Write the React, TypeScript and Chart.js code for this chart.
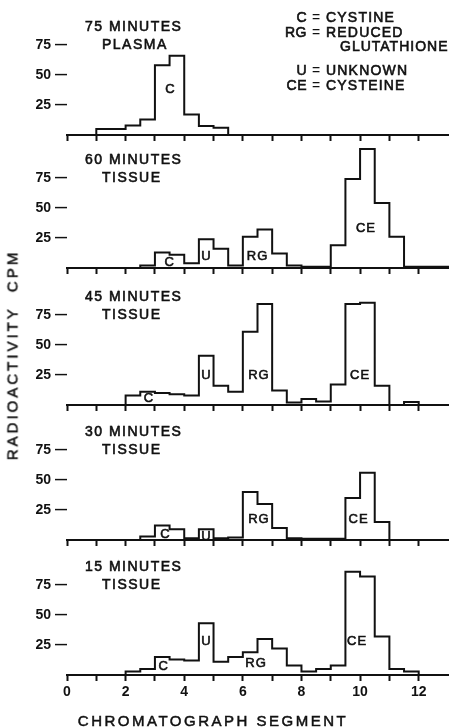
import React, { useEffect, useRef } from "react";
import { Chart, registerables } from "chart.js";

Chart.register(...registerables);
Chart.defaults.font.family = "'Liberation Sans', Arial, sans-serif";
Chart.defaults.color = "#111";

// Bin edges of the chromatograph segments (half-segment bins)
const binEdges = [1, 1.5, 2, 2.5, 3, 3.5, 4, 4.5, 5, 5.5, 6, 6.5, 7, 7.5, 8, 8.5, 9, 9.5, 10, 10.5, 11, 11.5, 12, 12.5, 13];

// Radioactivity (CPM) per bin, starting at each left edge
const cpm75Plasma = [5, 5, 8, 13, 58, 66, 17, 7.5, 6, null, null, null, null, null, null, null, null, null, null, null, null, null, null, null];
const cpm60Tissue = [null, null, null, 2, 13, 11, 4, 24, 16, 2, 26, 32, 12, 2, 1, 1, 19, 74, 99, 54, 26, 1, 1, 1];
const cpm45Tissue = [null, null, 8, 11, 10, 9, 8, 41, 16, 11, 61, 84, 12, 2, 5, 3, 17, 84, 85, 16, 0, 2.5, null, null];
const cpm30Tissue = [null, null, null, 3, 12, 9, 1.5, 9, 1.5, 2, 40, 30, 10, 1.5, 1, 1, 1, 35, 56, 15, null, null, null, null];
const cpm15Tissue = [null, null, 3, 5, 15, 13, 12, 43, 11, 15, 19, 30, 22, 8, 3, 5, 8, 86, 82, 32, 5, 3, null, null];

const panelTitles = ["75 MINUTES", "60 MINUTES", "45 MINUTES", "30 MINUTES", "15 MINUTES"];
const panelSubtitles = ["PLASMA", "TISSUE", "TISSUE", "TISSUE", "TISSUE"];

// Peak labels (segment, CPM)
const peaks75 = [{ t: "C", x: 3.53, y: 38 }];
const peaks60 = [{ t: "C", x: 3.5, y: 4.5 }, { t: "U", x: 4.76, y: 10 }, { t: "RG", x: 6.5, y: 10 }, { t: "CE", x: 10.2, y: 33 }];
const peaks45 = [{ t: "C", x: 2.8, y: 5.5 }, { t: "U", x: 4.76, y: 25 }, { t: "RG", x: 6.55, y: 25 }, { t: "CE", x: 10.0, y: 25 }];
const peaks30 = [{ t: "C", x: 3.36, y: 5 }, { t: "U", x: 4.76, y: 3 }, { t: "RG", x: 6.55, y: 17 }, { t: "CE", x: 9.95, y: 17 }];
const peaks15 = [{ t: "C", x: 3.3, y: 7 }, { t: "U", x: 4.76, y: 28 }, { t: "RG", x: 6.45, y: 10 }, { t: "CE", x: 9.9, y: 28 }];

const xTickValues = [0, 1, 2, 3, 4, 5, 6, 7, 8, 9, 10, 11, 12];
const yTickValues = [25, 50, 75];

const legendKeys = ["C", "RG", "", "U", "CE"];
const legendNames = ["CYSTINE", "REDUCED", "GLUTATHIONE", "UNKNOWN", "CYSTEINE"];

const xAxisTitle = "CHROMATOGRAPH SEGMENT";
const yAxisTitle = "RADIOACTIVITY  CPM";

const FONT = "'Liberation Sans', Arial, sans-serif";
const INK = "#111";

const panelSeries = [cpm75Plasma, cpm60Tissue, cpm45Tissue, cpm30Tissue, cpm15Tissue];
const panelPeaks = [peaks75, peaks60, peaks45, peaks30, peaks15];

function buildSteps(values: (number | null)[]) {
  const idx = values.map((v, i) => (v === null ? -1 : i)).filter((i) => i >= 0);
  const first = idx[0];
  const last = idx[idx.length - 1];
  const pts: { x: number; y: number }[] = [{ x: binEdges[first], y: 0 }];
  for (let i = first; i <= last; i++) pts.push({ x: binEdges[i], y: values[i] as number });
  pts.push({ x: binEdges[last + 1], y: 0 });
  return pts;
}

function inkText(ctx: CanvasRenderingContext2D, s: string, x: number, y: number) {
  ctx.fillText(s, x, y);
  ctx.strokeText(s, x, y);
}

type PanelProps = { index: number; top: number; height: number; xH: number; showX: boolean };

function Panel({ index, top, height, xH, showX }: PanelProps) {
  const ref = useRef<HTMLCanvasElement | null>(null);
  useEffect(() => {
    const canvas = ref.current;
    if (!canvas) return;
    const textPlugin = {
      id: "panelText",
      afterDraw(chart: any) {
        const ctx = chart.ctx as CanvasRenderingContext2D;
        const xs = chart.scales.x;
        const ys = chart.scales.y;
        const bottom = chart.chartArea.bottom;
        ctx.save();
        ctx.fillStyle = INK;
        ctx.strokeStyle = INK;
        ctx.lineWidth = 0.6;
        ctx.textBaseline = "middle";
        // panel titles
        ctx.font = `14px ${FONT}`;
        (ctx as any).letterSpacing = "1.5px";
        ctx.textAlign = "left";
        inkText(ctx, panelTitles[index], 85, bottom - 108);
        inkText(ctx, panelSubtitles[index], 102, bottom - 90);
        // peak labels
        ctx.font = `13px ${FONT}`;
        (ctx as any).letterSpacing = "1px";
        ctx.textAlign = "center";
        panelPeaks[index].forEach((p) => {
          inkText(ctx, p.t, xs.getPixelForValue(p.x), ys.getPixelForValue(p.y));
        });
        // legend in first panel
        if (index === 0) {
          const rows = [8, 23, 37.5, 61, 76];
          ctx.font = `14px ${FONT}`;
          legendKeys.forEach((k, i) => {
            const y = rows[i];
            if (k) {
              (ctx as any).letterSpacing = "0.5px";
              ctx.textAlign = "right";
              inkText(ctx, k, 307, y);
              (ctx as any).letterSpacing = "0px";
              ctx.textAlign = "center";
              ctx.fillText("=", 316, y);
              (ctx as any).letterSpacing = "1.2px";
              ctx.textAlign = "left";
              inkText(ctx, legendNames[i], 326, y);
            } else {
              ctx.textAlign = "left";
              (ctx as any).letterSpacing = "1px";
              inkText(ctx, legendNames[i], 340, y);
            }
          });
        }
        ctx.restore();
      },
    };
    const chart = new Chart(canvas, {
      type: "line",
      data: {
        datasets: [
          {
            data: buildSteps(panelSeries[index]),
            stepped: "before",
            borderColor: INK,
            borderWidth: 2,
            pointRadius: 0,
            fill: false,
            clip: false,
          } as any,
        ],
      },
      options: {
        responsive: false,
        animation: false,
        events: [],
        layout: { padding: { left: 0, right: 3, top: 0, bottom: 0 } },
        plugins: { legend: { display: false }, tooltip: { enabled: false }, title: { display: false } },
        scales: {
          x: {
            type: "linear",
            min: 0,
            max: 13,
            afterBuildTicks: (s: any) => {
              s.ticks = xTickValues.map((v) => ({ value: v }));
            },
            afterFit: (s: any) => {
              s.height = xH;
              s.paddingLeft = 0;
              s.paddingRight = 0;
            },
            ticks: {
              display: showX,
              autoSkip: false,
              maxRotation: 0,
              padding: 3,
              color: INK,
              font: { size: 14, family: FONT, weight: "bold" },
              callback: (v: any) => (Number(v) % 2 === 0 ? String(v) : ""),
            },
            grid: { drawOnChartArea: false, drawTicks: true, tickLength: 6, tickWidth: 2, tickColor: INK },
            border: { display: true, color: INK, width: 2 },
          },
          y: {
            type: "linear",
            min: 0,
            max: 104,
            afterBuildTicks: (s: any) => {
              s.ticks = yTickValues.map((v) => ({ value: v }));
            },
            afterFit: (s: any) => {
              s.width = 67;
              s.paddingTop = 0;
              s.paddingBottom = 0;
            },
            ticks: {
              padding: -10,
              color: INK,
              font: { size: 14, family: FONT, weight: "bold" },
              callback: (v: any) => `${v} —`,
            },
            grid: { display: false },
            border: { display: false },
          },
        },
      } as any,
      plugins: [textPlugin],
    });
    return () => chart.destroy();
  }, [index, height, xH, showX]);
  return (
    <canvas
      ref={ref}
      width={451}
      height={height}
      style={{ position: "absolute", left: 0, top, width: 451, height, display: "block" }}
    />
  );
}

export default function App() {
  const tops = [10, 143, 280, 415, 550];
  return (
    <div
      style={{
        position: "fixed",
        left: 0,
        top: 0,
        width: 451,
        height: 727,
        background: "#fff",
        overflow: "hidden",
        fontFamily: FONT,
        color: INK,
      }}
    >
      {tops.map((t, i) => (
        <Panel key={i} index={i} top={t} height={i === 4 ? 177 : 135} xH={i === 4 ? 52 : 10} showX={i === 4} />
      ))}
      <div
        style={{
          position: "absolute",
          left: 12,
          top: 355,
          transform: "translate(-50%, -50%) rotate(-90deg)",
          whiteSpace: "pre",
          fontSize: 15,
          letterSpacing: "3px",
          lineHeight: 1,
          WebkitTextStroke: "0.5px #111",
        }}
      >
        {yAxisTitle}
      </div>
      <div
        style={{
          position: "absolute",
          left: 213,
          top: 720,
          transform: "translate(-50%, -50%)",
          whiteSpace: "pre",
          fontSize: 15,
          letterSpacing: "2.5px",
          lineHeight: 1,
          WebkitTextStroke: "0.5px #111",
        }}
      >
        {xAxisTitle}
      </div>
    </div>
  );
}
